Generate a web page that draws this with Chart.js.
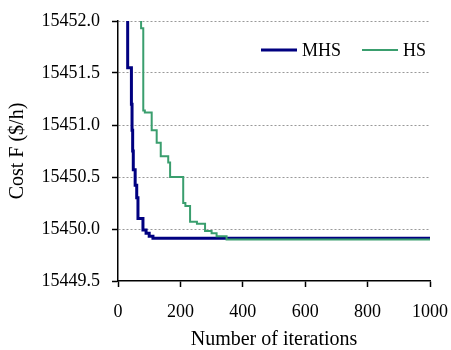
<!DOCTYPE html>
<html>
<head>
<meta charset="utf-8">
<script src="https://cdn.jsdelivr.net/npm/chart.js@4"></script>
<style>
  html, body { margin: 0; padding: 0; background: #fff; }
  #chart { display: block; }
</style>
</head>
<body>
<canvas id="chart" width="451" height="350"></canvas>
<script>
// convergence of MHS vs HS (cost vs iteration)
const seriesNames = ['MHS', 'HS'];

const mhsIter = [31, 31, 43, 45, 47, 49, 55, 60, 64, 80, 90, 100, 112, 1000];
const mhsCost = [15453, 15451.55, 15451.2, 15450.95, 15450.75, 15450.57, 15450.42, 15450.30,
                 15450.10, 15449.99, 15449.96, 15449.93, 15449.91, 15449.91];

const hsIter = [74, 74, 81, 86, 108, 124, 137, 161, 167, 209, 216, 231, 253, 279, 300, 316, 348, 1000];
const hsCost = [15453, 15451.93, 15451.14, 15451.12, 15450.95, 15450.83, 15450.70, 15450.64, 15450.50,
                15450.25, 15450.22, 15450.07, 15450.05, 15449.98, 15449.96, 15449.93, 15449.90, 15449.90];

const xTicks = [0, 200, 400, 600, 800, 1000];
const yTicks = [15449.5, 15450.0, 15450.5, 15451.0, 15451.5, 15452.0];

const serif = '"Liberation Serif", "Times New Roman", serif';

function toPoints(xs, ys) {
  return xs.map((x, i) => ({ x: x, y: ys[i] }));
}

// legend drawn inside the plot, top right
const cornerLegend = {
  id: 'cornerLegend',
  afterDatasetsDraw(chart) {
    const { ctx, chartArea } = chart;
    const y = chartArea.top + 29;
    let x = chartArea.right - 169;
    ctx.save();
    ctx.font = '18px ' + serif;
    ctx.textBaseline = 'middle';
    ctx.textAlign = 'left';
    chart.data.datasets.forEach(ds => {
      ctx.beginPath();
      ctx.strokeStyle = ds.borderColor;
      ctx.lineWidth = ds.borderWidth;
      ctx.moveTo(x, y);
      ctx.lineTo(x + 36, y);
      ctx.stroke();
      ctx.fillStyle = '#000';
      ctx.fillText(ds.label, x + 41, y + 1);
      x += 41 + ctx.measureText(ds.label).width + 21;
    });
    ctx.restore();
  }
};

const ctx = document.getElementById('chart').getContext('2d');

new Chart(ctx, {
  type: 'line',
  data: {
    datasets: [
      {
        label: seriesNames[0],
        data: toPoints(mhsIter, mhsCost),
        borderColor: '#000080',
        borderWidth: 3,
        stepped: 'before',
        pointRadius: 0,
        fill: false,
        order: 2
      },
      {
        label: seriesNames[1],
        data: toPoints(hsIter, hsCost),
        borderColor: '#3a9e6e',
        borderWidth: 2,
        stepped: 'before',
        pointRadius: 0,
        fill: false,
        order: 1
      }
    ]
  },
  options: {
    responsive: false,
    devicePixelRatio: 1,
    animation: false,
    layout: { padding: { top: 21, right: 21, left: 0, bottom: 0 } },
    plugins: {
      legend: { display: false },
      tooltip: { enabled: false }
    },
    scales: {
      x: {
        type: 'linear',
        min: xTicks[0],
        max: xTicks[xTicks.length - 1],
        afterFit: s => {
          s.height = 69;
          s.paddingLeft = 0;
          s.paddingRight = 0;
        },
        afterBuildTicks: s => { s.ticks = xTicks.map(v => ({ value: v })); },
        ticks: {
          color: '#000',
          padding: 14,
          maxRotation: 0,
          font: { family: serif, size: 18 },
          callback: v => String(v)
        },
        grid: {
          drawOnChartArea: false,
          drawTicks: true,
          tickLength: 6,
          tickColor: '#000',
          tickWidth: 1.5
        },
        border: { display: true, color: '#000', width: 1.5 },
        title: {
          display: true,
          text: 'Number of iterations',
          color: '#000',
          font: { family: serif, size: 20 },
          padding: { top: 0, bottom: -2 }
        }
      },
      y: {
        min: yTicks[0],
        max: yTicks[yTicks.length - 1],
        afterFit: s => {
          s.width = 118;
          s.paddingTop = 0;
          s.paddingBottom = 0;
        },
        afterBuildTicks: s => { s.ticks = yTicks.map(v => ({ value: v })); },
        ticks: {
          color: '#000',
          padding: 12,
          font: { family: serif, size: 18 },
          callback: v => Number(v).toFixed(1)
        },
        grid: {
          color: c => (c.tick && c.tick.value === yTicks[0]) ? 'rgba(0,0,0,0)' : '#999',
          lineWidth: 1,
          drawTicks: true,
          tickLength: 6,
          tickColor: '#000',
          tickWidth: 1.5
        },
        border: { display: true, color: '#000', width: 1.5, dash: [2, 2] },
        title: {
          display: true,
          text: 'Cost F ($/h)',
          color: '#000',
          font: { family: serif, size: 20 },
          padding: { top: 6, bottom: 0 }
        }
      }
    }
  },
  plugins: [cornerLegend]
});
</script>
</body>
</html>
